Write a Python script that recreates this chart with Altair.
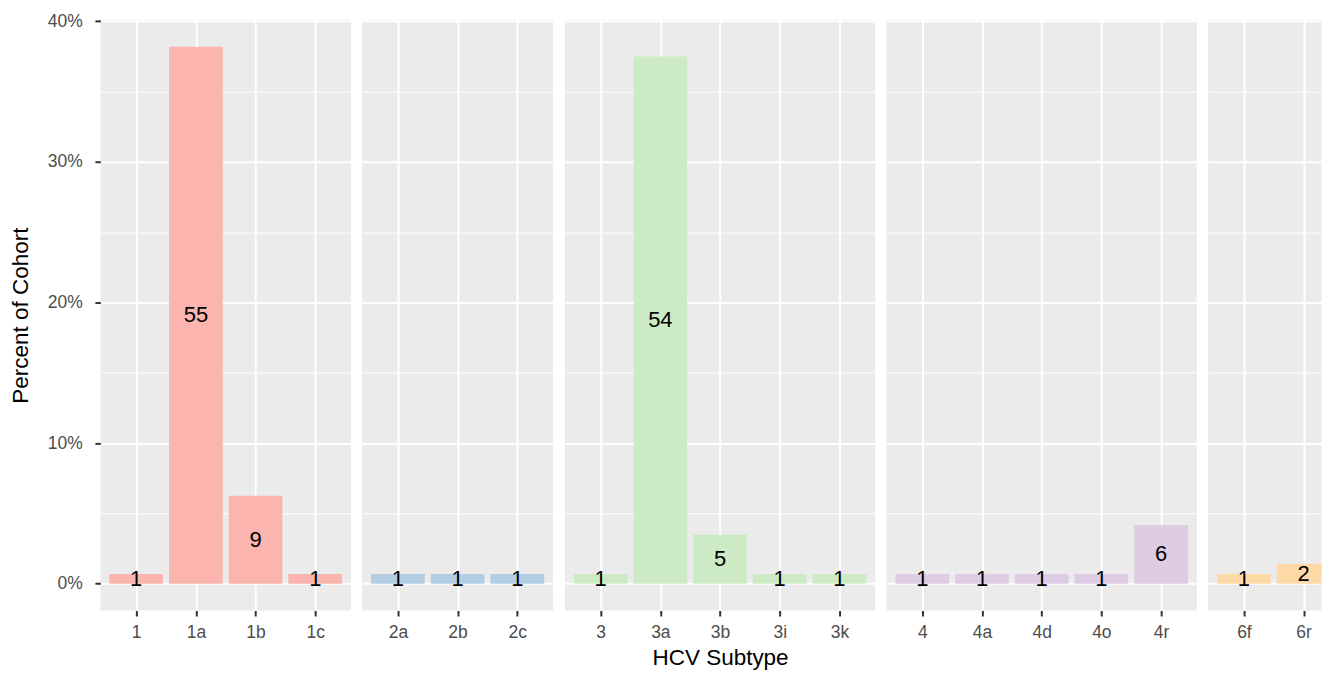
import json
import altair as alt
import pandas as pd

# ---- data ----
genotypes = ["1", "1", "1", "1",
             "2", "2", "2",
             "3", "3", "3", "3", "3",
             "4", "4", "4", "4", "4",
             "6", "6"]
subtypes = ["1", "1a", "1b", "1c",
            "2a", "2b", "2c",
            "3", "3a", "3b", "3i", "3k",
            "4", "4a", "4d", "4o", "4r",
            "6f", "6r"]
counts = [1, 55, 9, 1,
          1, 1, 1,
          1, 54, 5, 1, 1,
          1, 1, 1, 1, 6,
          1, 2]
panel_genotypes = ["1", "2", "3", "4", "6"]
panel_colors = ["#FBB4AE", "#B3CDE3", "#CCEBC5", "#DECBE4", "#FED9A6"]
y_tick_values = [0, 5, 10, 15, 20, 25, 30, 35, 40]

total = sum(counts)
df = pd.DataFrame({"genotype": genotypes, "subtype": subtypes, "count": counts})
df["pct"] = df["count"] / total * 100
df["mid"] = df["pct"] / 2
df["idx"] = df.groupby("genotype").cumcount()

ymax = df["pct"].max()
ydomain = [-0.05 * ymax, ymax * 1.05]

STEP = 59.75          # px per category
PANEL_H = 591.3
FONT = "Liberation Sans"
TICK_FS = 17.5
TITLE_FS = 22.5

major_test = "datum.value % 10 === 0"


def y_axis(first):
    common = dict(
        values=y_tick_values,
        grid=True,
        gridColor="white",
        gridWidth={"condition": {"test": major_test, "value": 2}, "value": 1},
        domain=False,
    )
    if first:
        return alt.Axis(
            title="Percent of Cohort",
            titleFontSize=TITLE_FS,
            titleFontWeight="normal",
            titleColor="black",
            titlePadding=14.5,
            labelExpr="datum.value % 10 === 0 ? datum.value + '%' : ''",
            labelFontSize=TICK_FS,
            labelColor="#4D4D4D",
            labelPadding=12.7,
            tickSize=5.5,
            tickWidth=2,
            tickColor="#333333",
            tickOpacity={"condition": {"test": major_test, "value": 1}, "value": 0},
            **common,
        )
    return alt.Axis(title=None, labels=False, ticks=False, **common)


def panel(g, color, first, xtitle, width):
    sub = df[df["genotype"] == g]
    names = list(sub["subtype"])
    n = len(names)
    xscale = alt.Scale(domain=[-0.6, -0.6 + width / STEP], nice=False, zero=False)
    xaxis = alt.Axis(
        title=xtitle if xtitle else None,
        titleFontSize=TITLE_FS,
        titleFontWeight="normal",
        titleColor="black",
        titlePadding=5.5,
        values=list(range(n)),
        labelExpr=json.dumps(names) + "[datum.value]",
        labelAngle=0,
        labelFlush=False,
        labelOverlap=False,
        labelFontSize=TICK_FS,
        labelColor="#4D4D4D",
        labelPadding=7.5,
        tickSize=5.5,
        tickWidth=2,
        tickColor="#333333",
        domain=False,
        grid=True,
        gridColor="white",
        gridWidth=2,
    )
    yscale = alt.Scale(domain=ydomain, nice=False, zero=False)
    yax = y_axis(first)
    base = alt.Chart(sub).transform_calculate(
        x0="datum.idx - 0.45", x1="datum.idx + 0.45"
    )
    bars = base.mark_bar(color=color, clip=True).encode(
        x=alt.X("x0:Q", scale=xscale, axis=xaxis),
        x2="x1:Q",
        y=alt.Y("pct:Q", scale=yscale, axis=yax),
        y2=alt.datum(0),
    )
    text = base.mark_text(fontSize=22, color="black", font=FONT).encode(
        x=alt.X("idx:Q", scale=xscale, axis=xaxis),
        y=alt.Y("mid:Q", scale=yscale, axis=yax),
        text="count:Q",
    )
    return alt.layer(bars, text).properties(width=width, height=PANEL_H)


panels = []
for i, (g, c) in enumerate(zip(panel_genotypes, panel_colors)):
    n = genotypes.count(g)
    w = (n + 0.2) * STEP if i < 4 else 113.5
    panels.append(panel(g, c, i == 0, "HCV Subtype" if i == 2 else None, w))

chart = (
    alt.hconcat(*panels, spacing=11)
    .properties(padding={"left": 1.5, "top": 3.5, "right": 0, "bottom": 0})
    .configure(font=FONT)
    .configure_view(fill="#EBEBEB", strokeWidth=0)
)

chart.save("out.html", embed_options={"renderer": "svg", "actions": False})
